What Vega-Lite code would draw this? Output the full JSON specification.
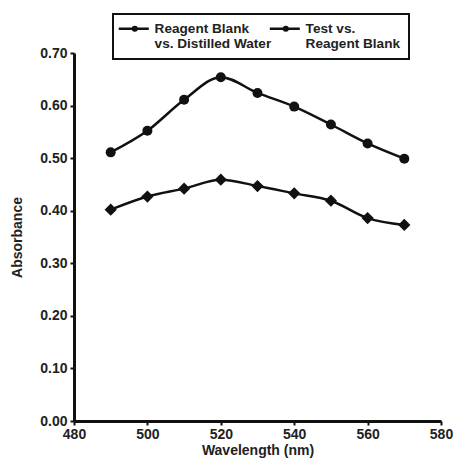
{
  "$schema": "https://vega.github.io/schema/vega-lite/v6.json",
  "width": 367,
  "height": 368,
  "autosize": {"type": "none"},
  "padding": {"left": 74, "top": 53, "right": 14, "bottom": 38},
  "background": "white",
  "config": {
    "view": {"stroke": null},
    "font": "Liberation Sans",
    "axis": {
      "grid": false,
      "domainColor": "#111111",
      "domainWidth": 3,
      "tickColor": "#111111",
      "tickWidth": 2,
      "tickSize": 4,
      "labelFont": "Liberation Sans",
      "labelFontWeight": "bold",
      "labelFontSize": 14,
      "labelColor": "#222222",
      "titleFont": "Liberation Sans",
      "titleFontWeight": "bold",
      "titleFontSize": 14,
      "titleColor": "#222222"
    }
  },
  "data": {
    "values": [
      {"wavelength": 490, "absorbance": 0.511, "series": "Reagent Blank vs. Distilled Water"},
      {"wavelength": 500, "absorbance": 0.552, "series": "Reagent Blank vs. Distilled Water"},
      {"wavelength": 510, "absorbance": 0.611, "series": "Reagent Blank vs. Distilled Water"},
      {"wavelength": 520, "absorbance": 0.654, "series": "Reagent Blank vs. Distilled Water"},
      {"wavelength": 530, "absorbance": 0.624, "series": "Reagent Blank vs. Distilled Water"},
      {"wavelength": 540, "absorbance": 0.598, "series": "Reagent Blank vs. Distilled Water"},
      {"wavelength": 550, "absorbance": 0.564, "series": "Reagent Blank vs. Distilled Water"},
      {"wavelength": 560, "absorbance": 0.528, "series": "Reagent Blank vs. Distilled Water"},
      {"wavelength": 570, "absorbance": 0.499, "series": "Reagent Blank vs. Distilled Water"},
      {"wavelength": 490, "absorbance": 0.402, "series": "Test vs. Reagent Blank"},
      {"wavelength": 500, "absorbance": 0.427, "series": "Test vs. Reagent Blank"},
      {"wavelength": 510, "absorbance": 0.442, "series": "Test vs. Reagent Blank"},
      {"wavelength": 520, "absorbance": 0.459, "series": "Test vs. Reagent Blank"},
      {"wavelength": 530, "absorbance": 0.447, "series": "Test vs. Reagent Blank"},
      {"wavelength": 540, "absorbance": 0.433, "series": "Test vs. Reagent Blank"},
      {"wavelength": 550, "absorbance": 0.419, "series": "Test vs. Reagent Blank"},
      {"wavelength": 560, "absorbance": 0.386, "series": "Test vs. Reagent Blank"},
      {"wavelength": 570, "absorbance": 0.373, "series": "Test vs. Reagent Blank"}
    ]
  },
  "encoding": {
    "x": {
      "field": "wavelength",
      "type": "quantitative",
      "scale": {"domain": [480, 580], "nice": false, "zero": false},
      "axis": {"values": [480, 500, 520, 540, 560, 580], "title": "Wavelength (nm)", "titlePadding": 2, "labelPadding": 2, "labelFlush": false}
    },
    "y": {
      "field": "absorbance",
      "type": "quantitative",
      "scale": {"domain": [0, 0.7], "nice": false},
      "axis": {"values": [0, 0.1, 0.2, 0.3, 0.4, 0.5, 0.6, 0.7], "format": ".2f", "title": "Absorbance", "titlePadding": 15, "labelPadding": 3, "labelFlush": false}
    }
  },
  "layer": [
    {
      "mark": {"type": "line", "strokeWidth": 2.5, "interpolate": "monotone"},
      "encoding": {
        "color": {
          "field": "series",
          "type": "nominal",
          "scale": {"domain": ["Reagent Blank vs. Distilled Water", "Test vs. Reagent Blank"], "range": ["#111111", "#111111"]},
          "legend": {
            "title": null,
            "orient": "none",
            "legendX": 39,
            "legendY": -39,
            "direction": "horizontal",
            "columns": 2,
            "columnPadding": -9,
            "padding": 8,
            "strokeColor": "#111111",
            "fillColor": "white",
            "symbolType": "M-1.8,0H4.2M1.04,0a0.36,0.36 0 1,0 0.72,0a0.36,0.36 0 1,0 -0.72,0",
            "symbolSize": 100,
            "symbolStrokeWidth": 2.5,
            "symbolStrokeColor": "#111111",
            "symbolFillColor": "#111111",
            "labelOffset": 20,
            "labelFont": "Liberation Sans",
            "labelFontWeight": "bold",
            "labelFontSize": 13.6,
            "labelLineHeight": 18,
            "labelColor": "#222222",
            "labelLimit": 300,
            "labelExpr": "datum.label == 'Test vs. Reagent Blank' ? ['Test vs.', 'Reagent Blank'] : ['Reagent Blank', 'vs. Distilled Water']",
            "encode": {"legend": {"update": {"strokeWidth": {"value": 2}}}}
          }
        }
      }
    },
    {
      "mark": {"type": "point", "filled": true, "color": "#111111", "opacity": 1},
      "encoding": {
        "shape": {
          "condition": {"test": "datum.series == 'Test vs. Reagent Blank'", "value": "diamond"},
          "value": "circle"
        },
        "size": {
          "condition": {"test": "datum.series == 'Test vs. Reagent Blank'", "value": 150},
          "value": 100
        }
      }
    }
  ]
}
